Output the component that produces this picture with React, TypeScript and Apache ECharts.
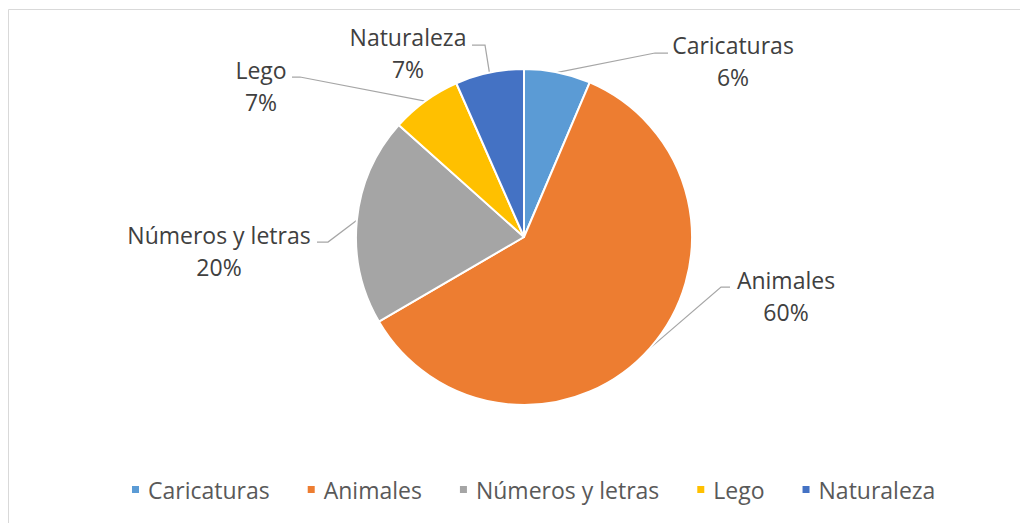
import React, { useEffect, useRef } from "react";
import * as echarts from "echarts";

const categories = ["Caricaturas", "Animales", "Números y letras", "Lego", "Naturaleza"];
const values = [6.4, 60.2, 20.0, 6.8, 6.6];
const colors = ["#5B9BD5", "#ED7D31", "#A5A5A5", "#FFC000", "#4472C4"];

// layout of the outside labels (chart pixel space): label centre, elbow and end of leader line
const LABEL_POS = [
  { x: 725, y: 53, elbow: [647, 45], end: [660, 45] },
  { x: 778, y: 288, elbow: [713, 279], end: [722, 279] },
  { x: 211, y: 243, elbow: [320, 234], end: [309, 234] },
  { x: 253, y: 78, elbow: [292, 69], end: [284, 69] },
  { x: 400, y: 45, elbow: [477, 37], end: [464, 37] },
];

const FONT = "'Open Sans', 'Noto Sans', sans-serif";

export default function App() {
  const ref = useRef<HTMLDivElement>(null);
  useEffect(() => {
    if (!ref.current) return;
    const chart = echarts.init(ref.current, null, { renderer: "svg" });
    chart.setOption({
      animation: false,
      backgroundColor: "#ffffff",
      textStyle: { fontFamily: FONT },
      graphic: [
        {
          type: "rect",
          shape: { x: 0.5, y: 1.5, width: 1200, height: 700 },
          style: { fill: "none", stroke: "#d9d9d9", lineWidth: 1 },
          silent: true,
        },
      ],
      legend: {
        bottom: 17,
        left: 117,
        icon: "rect",
        itemWidth: 9,
        itemHeight: 9,
        itemGap: 36,
        textStyle: { color: "#595959", fontSize: 23, fontFamily: FONT, padding: [0, 0, 0, 3] },
        data: categories,
      },
      series: [
        {
          type: "pie",
          center: [516, 229],
          radius: 168,
          startAngle: 90,
          clockwise: true,
          percentPrecision: 0,
          itemStyle: { borderColor: "#ffffff", borderWidth: 2 },
          label: {
            show: true,
            position: "outside",
            formatter: "{b}\n{d}%",
            color: "#404040",
            fontSize: 23,
            lineHeight: 32,
            fontFamily: FONT,
            align: "center",
          },
          labelLine: { show: true, length: 15, length2: 10, lineStyle: { color: "#a6a6a6", width: 1.25 } },
          labelLayout: (params: any) => {
            const p = LABEL_POS[params.dataIndex];
            const start = params.labelLinePoints ? params.labelLinePoints[0] : p.elbow;
            return {
              x: p.x,
              y: p.y,
              align: "center",
              verticalAlign: "middle",
              labelLinePoints: [start, p.elbow, p.end],
            };
          },
          data: categories.map((name, i) => ({ name, value: values[i], itemStyle: { color: colors[i] } })),
        },
      ],
    });
    return () => chart.dispose();
  }, []);
  return <div ref={ref} style={{ width: 1020, height: 515 }} />;
}
